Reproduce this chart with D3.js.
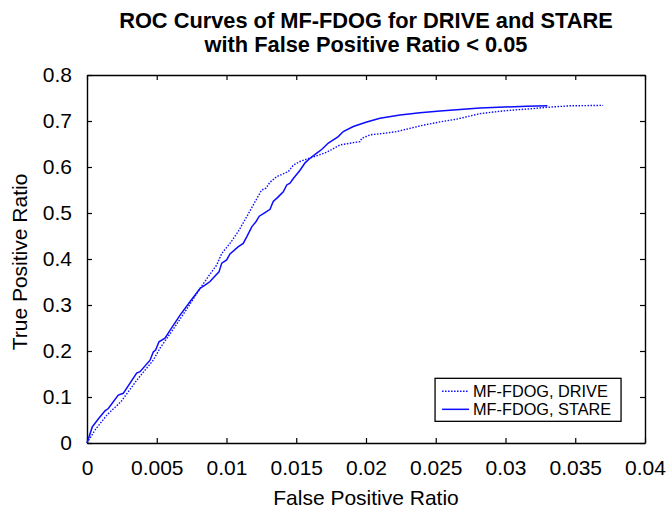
<!DOCTYPE html>
<html>
<head>
<meta charset="utf-8">
<script src="https://cdn.jsdelivr.net/npm/d3@7"></script>
<style>
  body { margin: 0; background: #fff; }
  svg text { font-family: "Liberation Sans", Arial, sans-serif; fill: #000; }
</style>
</head>
<body>
<div id="svg-container"></div>
<script>
// MF-FDOG on DRIVE (dotted line)
const driveFpr = [0, 0.00057, 0.00143, 0.00244, 0.00358, 0.00475, 0.00523, 0.00631, 0.00726, 0.0081,
    0.0087, 0.0093, 0.00966, 0.01025, 0.01085, 0.01145, 0.01204, 0.01252, 0.01283, 0.01312,
    0.0136, 0.01443, 0.01479, 0.01527, 0.01622, 0.01718, 0.01814, 0.01909, 0.01957, 0.01969,
    0.02029, 0.02124, 0.0222, 0.02315, 0.02411, 0.0253, 0.0265, 0.02817, 0.02984, 0.03152,
    0.03307, 0.03462, 0.037];
const driveTpr = [0, 0.028, 0.061, 0.090, 0.137, 0.180, 0.206, 0.253, 0.296, 0.336,
    0.362, 0.387, 0.412, 0.434, 0.460, 0.492, 0.524, 0.550, 0.554, 0.567,
    0.579, 0.590, 0.604, 0.612, 0.622, 0.632, 0.648, 0.653, 0.655, 0.662,
    0.670, 0.673, 0.677, 0.684, 0.691, 0.698, 0.704, 0.716, 0.722, 0.726,
    0.730, 0.733, 0.734];

// MF-FDOG on STARE (solid line)
const stareFpr = [0, 0.00038, 0.00081, 0.00129, 0.00153, 0.00224, 0.0026, 0.00356, 0.0038, 0.00452,
    0.00475, 0.00492, 0.00516, 0.00559, 0.00595, 0.00667, 0.00738, 0.0081, 0.00846, 0.00882,
    0.00918, 0.00946, 0.00966, 0.01001, 0.01025, 0.01085, 0.0112, 0.01145, 0.01181, 0.01211,
    0.01235, 0.01276, 0.01312, 0.01335, 0.01371, 0.01407, 0.01432, 0.01455, 0.01479, 0.01527,
    0.01563, 0.01599, 0.01647, 0.01682, 0.0173, 0.01766, 0.01801, 0.01837, 0.01909, 0.02005,
    0.021, 0.02244, 0.02387, 0.0253, 0.02674, 0.02817, 0.0295, 0.0315, 0.033];
const stareTpr = [0, 0.035, 0.052, 0.070, 0.075, 0.104, 0.108, 0.152, 0.155, 0.180,
    0.198, 0.202, 0.220, 0.228, 0.245, 0.278, 0.307, 0.336, 0.343, 0.351,
    0.363, 0.372, 0.391, 0.398, 0.411, 0.427, 0.434, 0.448, 0.470, 0.481,
    0.493, 0.501, 0.508, 0.525, 0.535, 0.546, 0.561, 0.565, 0.575, 0.593,
    0.609, 0.619, 0.630, 0.638, 0.652, 0.659, 0.666, 0.677, 0.688, 0.698,
    0.706, 0.713, 0.718, 0.722, 0.725, 0.728, 0.730, 0.732, 0.733];

const xTicks = [0, 0.005, 0.01, 0.015, 0.02, 0.025, 0.03, 0.035, 0.04];
const xTickLabels = ['0', '0.005', '0.01', '0.015', '0.02', '0.025', '0.03', '0.035', '0.04'];
const yTicks = [0, 0.1, 0.2, 0.3, 0.4, 0.5, 0.6, 0.7, 0.8];
const yTickLabels = ['0', '0.1', '0.2', '0.3', '0.4', '0.5', '0.6', '0.7', '0.8'];

const seriesNames = ['MF-FDOG, DRIVE', 'MF-FDOG, STARE'];
const titleLines = ['ROC Curves of MF-FDOG for DRIVE and STARE', 'with False Positive Ratio < 0.05'];

const W = 666, H = 511;
const margin = { top: 75, left: 87, right: 21, bottom: 68 };
const width = W - margin.left - margin.right;
const height = H - margin.top - margin.bottom;
const lineColor = '#0c0cff';

const svg = d3.select('#svg-container').append('svg')
    .attr('width', W)
    .attr('height', H);

const chart = svg.append('g')
    .attr('transform', `translate(${margin.left},${margin.top})`);

const x = d3.scaleLinear().domain([0, 0.04]).range([0, width]);
const y = d3.scaleLinear().domain([0, 0.8]).range([height, 0]);

// axes: ticks pointing inward, labels only bottom/left
const styleAxis = g => {
    g.select('.domain').attr('stroke', '#000').attr('stroke-width', 1.4);
    g.selectAll('.tick line').attr('stroke', '#000').attr('stroke-width', 1.2);
    g.selectAll('.tick text').style('font-size', '21px').attr('fill', '#000');
};

chart.append('g')
    .attr('transform', `translate(0,${height})`)
    .call(d3.axisBottom(x).tickValues(xTicks).tickSizeInner(-5).tickSizeOuter(0).tickPadding(17)
        .tickFormat((d, i) => xTickLabels[i]))
    .call(styleAxis);

chart.append('g')
    .call(d3.axisLeft(y).tickValues(yTicks).tickSizeInner(-5).tickSizeOuter(0).tickPadding(15)
        .tickFormat((d, i) => yTickLabels[i]))
    .call(styleAxis);

chart.append('g')
    .call(d3.axisTop(x).tickValues(xTicks).tickSizeInner(-5).tickSizeOuter(0).tickFormat(''))
    .call(styleAxis);

chart.append('g')
    .attr('transform', `translate(${width},0)`)
    .call(d3.axisRight(y).tickValues(yTicks).tickSizeInner(-5).tickSizeOuter(0).tickFormat(''))
    .call(styleAxis);

// curves
const line = d3.line().x(d => x(d[0])).y(d => y(d[1]));
const driveData = d3.zip(driveFpr, driveTpr);
const stareData = d3.zip(stareFpr, stareTpr);

chart.append('path')
    .datum(driveData)
    .attr('d', line)
    .attr('fill', 'none')
    .attr('stroke', lineColor)
    .attr('stroke-width', 1.4)
    .attr('stroke-dasharray', '1.5,1.5');

chart.append('path')
    .datum(stareData)
    .attr('d', line)
    .attr('fill', 'none')
    .attr('stroke', lineColor)
    .attr('stroke-width', 1.5);

// title
svg.append('text')
    .attr('x', margin.left + width / 2)
    .attr('text-anchor', 'middle')
    .style('font-size', '21.8px')
    .style('font-weight', 'bold')
    .selectAll('tspan')
    .data(titleLines)
    .enter()
    .append('tspan')
    .attr('x', margin.left + width / 2)
    .attr('y', (d, i) => 28 + i * 24)
    .text(d => d);

// axis labels
svg.append('text')
    .attr('x', margin.left + width / 2)
    .attr('y', 505)
    .attr('text-anchor', 'middle')
    .style('font-size', '21px')
    .text('False Positive Ratio');

svg.append('text')
    .attr('transform', `translate(27,${margin.top + height / 2 + 3}) rotate(-90)`)
    .attr('text-anchor', 'middle')
    .style('font-size', '21px')
    .text('True Positive Ratio');

// legend
const legend = chart.append('g')
    .attr('transform', `translate(${x(0.02495)},${y(0.1406)})`);

legend.append('rect')
    .attr('width', 186)
    .attr('height', 43)
    .attr('fill', '#fff')
    .attr('stroke', '#000')
    .attr('stroke-width', 1.3);

const legendItems = legend.selectAll('g.legend-item')
    .data(seriesNames)
    .enter()
    .append('g')
    .attr('class', 'legend-item')
    .attr('transform', (d, i) => `translate(0,${13 + i * 18})`);

legendItems.append('line')
    .attr('x1', 7)
    .attr('x2', 34)
    .attr('stroke', lineColor)
    .attr('stroke-width', (d, i) => i === 0 ? 1.4 : 1.5)
    .attr('stroke-dasharray', (d, i) => i === 0 ? '1.5,1.5' : null);

legendItems.append('text')
    .attr('x', 38)
    .attr('dy', '0.35em')
    .style('font-size', '16.3px')
    .text(d => d);
</script>
</body>
</html>
